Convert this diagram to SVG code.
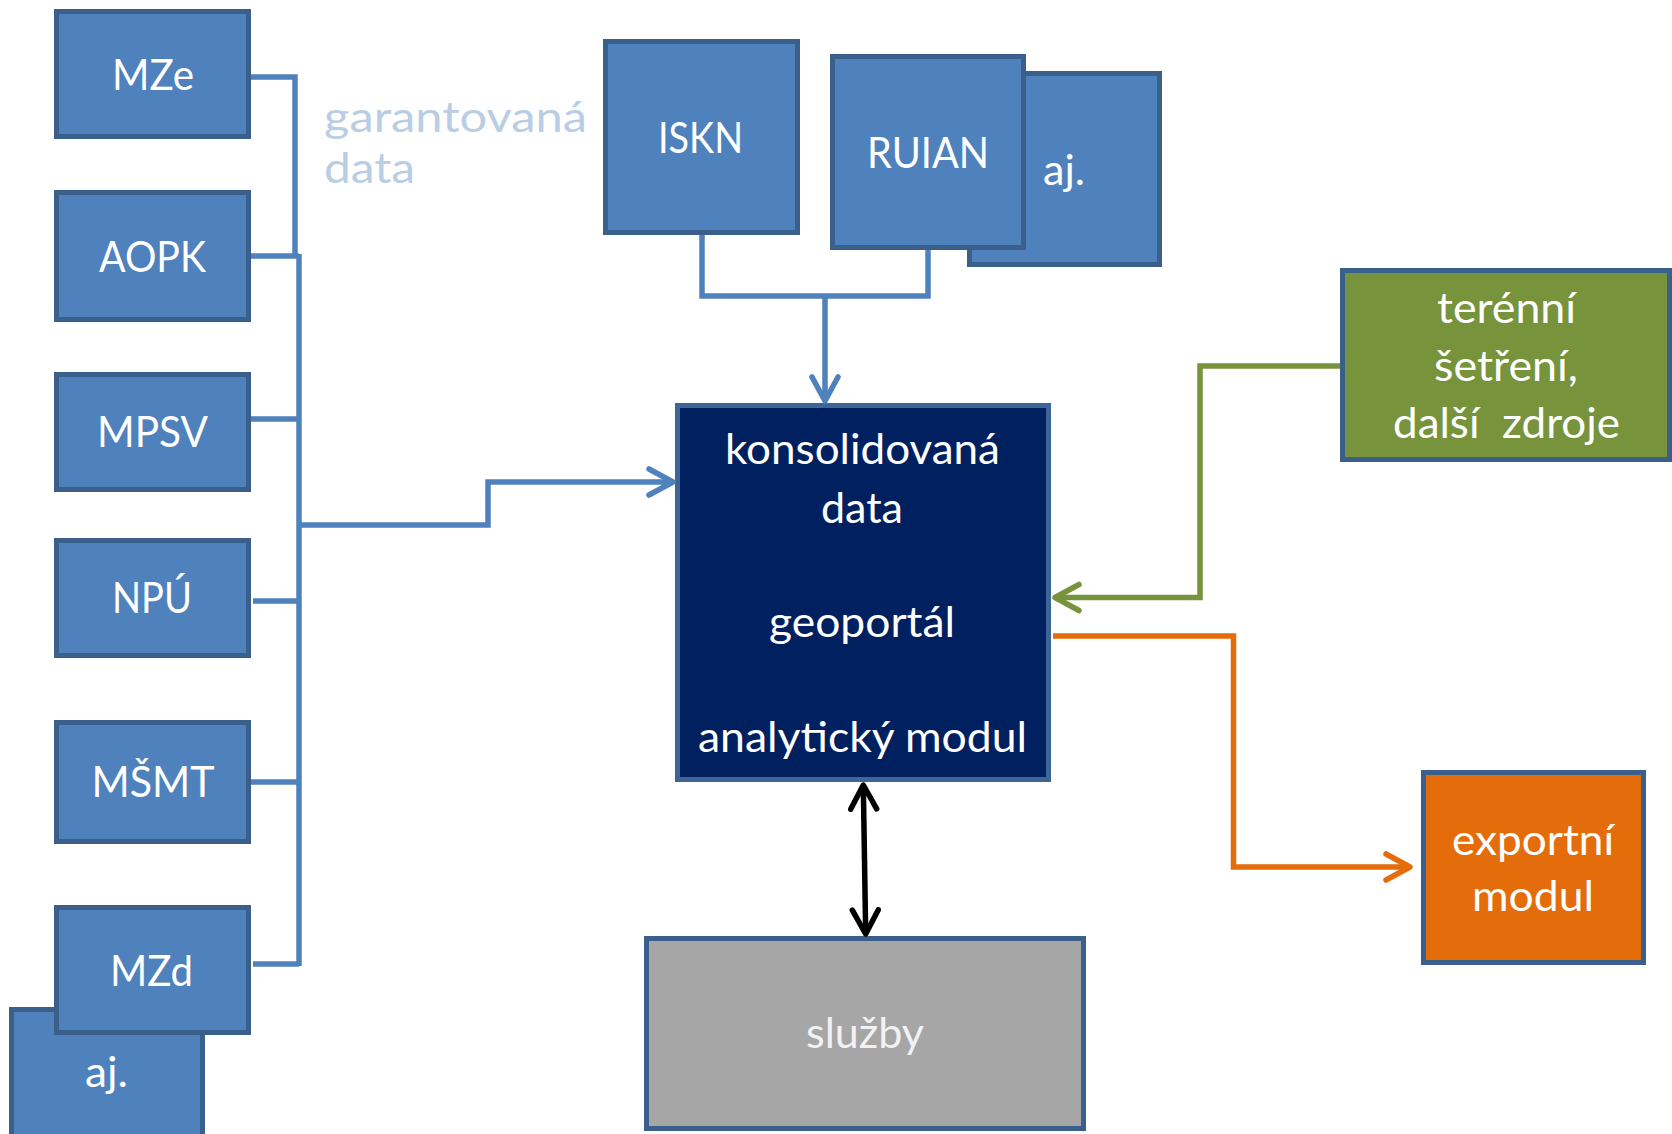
<svg xmlns="http://www.w3.org/2000/svg" width="1672" height="1134" viewBox="0 0 1672 1134">
  <style>
    .box { fill: #4F81BD; stroke: #3A5F8B; stroke-width: 5; }
    .main { fill: #002060; stroke: #3D6696; stroke-width: 5; }
    .green { fill: #77933C; stroke: #3A5F8B; stroke-width: 5; }
    .orange { fill: #E46C0A; stroke: #3A5F8B; stroke-width: 5; }
    .grey { fill: #A6A6A6; stroke: #3A5F8B; stroke-width: 5; }
    text { font-family: Lato, "Open Sans", "Noto Sans", sans-serif; font-size: 42px; fill: #FFFFFF; }
    .c { text-anchor: middle; }
    .note { fill: #B9CDE5; }
    .ln { fill: none; stroke-width: 5.5; stroke-linejoin: miter; }
    .blue { stroke: #4F81BD; }
    .gr { stroke: #77933C; }
    .or { stroke: #E46C0A; }
    .bk { stroke: #000000; }
  </style>
  <defs>
    <marker id="ab" markerUnits="userSpaceOnUse" markerWidth="40" markerHeight="40" refX="27" refY="16" orient="auto">
      <path d="M3,3 L27,16 L3,29" fill="none" stroke="#4F81BD" stroke-width="5.5" stroke-linecap="round" stroke-linejoin="round"/>
    </marker>
    <marker id="ag" markerUnits="userSpaceOnUse" markerWidth="40" markerHeight="40" refX="27" refY="16" orient="auto">
      <path d="M3,3 L27,16 L3,29" fill="none" stroke="#77933C" stroke-width="5.5" stroke-linecap="round" stroke-linejoin="round"/>
    </marker>
    <marker id="ao" markerUnits="userSpaceOnUse" markerWidth="40" markerHeight="40" refX="27" refY="16" orient="auto">
      <path d="M3,3 L27,16 L3,29" fill="none" stroke="#E46C0A" stroke-width="5.5" stroke-linecap="round" stroke-linejoin="round"/>
    </marker>
    <marker id="ak" markerUnits="userSpaceOnUse" markerWidth="40" markerHeight="40" refX="27" refY="16" orient="auto-start-reverse">
      <path d="M3,3 L27,16 L3,29" fill="none" stroke="#000000" stroke-width="5.5" stroke-linecap="round" stroke-linejoin="round"/>
    </marker>
  </defs>

  <g id="label-garantovana">
    <text class="note" x="324" y="132" textLength="263" lengthAdjust="spacingAndGlyphs">garantovaná</text>
    <text class="note" x="324" y="183" textLength="91" lengthAdjust="spacingAndGlyphs">data</text>
  </g>

  <g id="node-mze">
    <rect class="box" x="56.5" y="11.5" width="192" height="125"/>
    <text class="c" x="153" y="90" textLength="82" lengthAdjust="spacingAndGlyphs">MZe</text>
  </g>
  <g id="node-aopk">
    <rect class="box" x="56.5" y="192.5" width="192" height="127"/>
    <text class="c" x="152.5" y="272" textLength="107" lengthAdjust="spacingAndGlyphs">AOPK</text>
  </g>
  <g id="node-mpsv">
    <rect class="box" x="56.5" y="374.5" width="192" height="115"/>
    <text class="c" x="152.5" y="447" textLength="111" lengthAdjust="spacingAndGlyphs">MPSV</text>
  </g>
  <g id="node-npu">
    <rect class="box" x="56.5" y="540.5" width="192" height="115"/>
    <text class="c" x="152" y="613" textLength="80" lengthAdjust="spacingAndGlyphs">NPÚ</text>
  </g>
  <g id="node-msmt">
    <rect class="box" x="56.5" y="722.5" width="192" height="119"/>
    <text class="c" x="153" y="797" textLength="123" lengthAdjust="spacingAndGlyphs">MŠMT</text>
  </g>
  <g id="node-aj-left">
    <rect class="box" x="11.5" y="1009.5" width="191" height="140"/>
    <text class="c" x="106.5" y="1087" textLength="43" lengthAdjust="spacingAndGlyphs">aj.</text>
  </g>
  <g id="node-mzd">
    <rect class="box" x="56.5" y="907.5" width="192" height="125"/>
    <text class="c" x="151.5" y="986" textLength="83" lengthAdjust="spacingAndGlyphs">MZd</text>
  </g>

  <g id="node-iskn">
    <rect class="box" x="605.5" y="41.5" width="192" height="191"/>
    <text class="c" x="700.5" y="153" textLength="85" lengthAdjust="spacingAndGlyphs">ISKN</text>
  </g>
  <g id="node-aj-top">
    <rect class="box" x="969.5" y="73.5" width="190" height="191"/>
    <text x="1043" y="185" textLength="42" lengthAdjust="spacingAndGlyphs">aj.</text>
  </g>
  <g id="node-ruian">
    <rect class="box" x="832.5" y="56.5" width="191" height="191"/>
    <text class="c" x="928" y="168" textLength="122" lengthAdjust="spacingAndGlyphs">RUIAN</text>
  </g>

  <g id="node-main">
    <rect class="main" x="677.5" y="405.5" width="371" height="374"/>
    <text class="c" x="862.5" y="464" textLength="275" lengthAdjust="spacingAndGlyphs">konsolidovaná</text>
    <text class="c" x="862" y="523" textLength="82" lengthAdjust="spacingAndGlyphs">data</text>
    <text class="c" x="862" y="637" textLength="186" lengthAdjust="spacingAndGlyphs">geoportál</text>
    <text class="c" x="862.5" y="752" textLength="329" lengthAdjust="spacingAndGlyphs">analytický modul</text>
  </g>

  <g id="node-terenni">
    <rect class="green" x="1342.5" y="270.5" width="327" height="189"/>
    <text class="c" x="1506.5" y="323" textLength="139" lengthAdjust="spacingAndGlyphs">terénní</text>
    <text class="c" x="1506" y="381" textLength="144" lengthAdjust="spacingAndGlyphs">šetření,</text>
    <text class="c" x="1506.5" y="438" textLength="227" lengthAdjust="spacingAndGlyphs" xml:space="preserve">další  zdroje</text>
  </g>

  <g id="node-export">
    <rect class="orange" x="1423.5" y="772.5" width="220" height="190"/>
    <text class="c" x="1533" y="855" textLength="162" lengthAdjust="spacingAndGlyphs">exportní</text>
    <text class="c" x="1533" y="911" textLength="122" lengthAdjust="spacingAndGlyphs">modul</text>
  </g>

  <g id="node-sluzby">
    <rect class="grey" x="646.5" y="938.5" width="437" height="190"/>
    <text class="c" x="865" y="1048" textLength="118" lengthAdjust="spacingAndGlyphs" style="fill:#F2F2F2">služby</text>
  </g>

  <g id="connectors">
    <path class="ln blue" d="M251,77 H295 V256"/>
    <path class="ln blue" d="M251,256 H299"/>
    <path class="ln blue" d="M299,254 V966"/>
    <path class="ln blue" d="M251,419 H299"/>
    <path class="ln blue" d="M253,601 H299"/>
    <path class="ln blue" d="M251,782 H299"/>
    <path class="ln blue" d="M253,964 H299"/>
    <path class="ln blue" d="M299,525 H488 V482 H673" marker-end="url(#ab)"/>
    <path class="ln blue" d="M702,235 V296 H928 V250"/>
    <path class="ln blue" d="M825,296 V401" marker-end="url(#ab)"/>
    <path class="ln gr" d="M1340,366 H1200 V597.5 H1055" marker-end="url(#ag)"/>
    <path class="ln or" d="M1053,636 H1233.5 V867 H1410" marker-end="url(#ao)"/>
    <path class="ln bk" d="M863.3,785 L865.7,934" marker-start="url(#ak)" marker-end="url(#ak)"/>
  </g>
</svg>
